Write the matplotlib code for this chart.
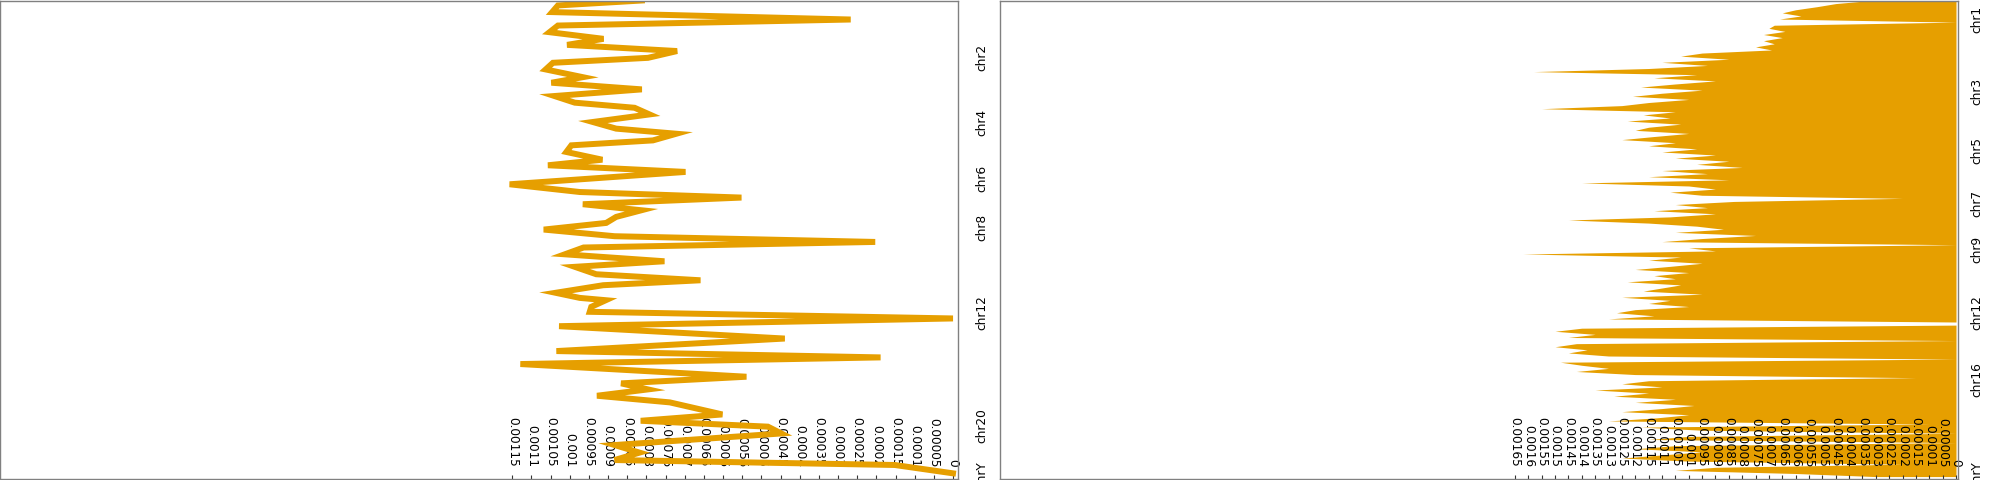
import numpy as np
import matplotlib
matplotlib.use("Agg")
import matplotlib.pyplot as plt

# chromosome sizes (Mb, hg19) - used for genome-wide coordinates
chrom_names = ["chr1", "chr2", "chr3", "chr4", "chr5", "chr6", "chr7", "chr8",
               "chr9", "chr10", "chr11", "chr12", "chr13", "chr14", "chr15", "chr16",
               "chr17", "chr18", "chr19", "chr20", "chr21", "chr22", "chrX", "chrY"]
chrom_len = [249.25, 243.20, 198.02, 191.15, 180.92, 171.12, 159.14, 146.36,
             141.21, 135.53, 135.01, 133.85, 115.17, 107.35, 102.53, 90.35,
             81.20, 78.08, 59.13, 63.03, 48.13, 51.30, 155.27, 59.37]

# which chromosome names are shown on each panel
left_labels = ["chr2", "chr4", "chr6", "chr8", "chr12", "chr20", "chrY"]
right_labels = ["chr1", "chr3", "chr5", "chr7", "chr9", "chr12", "chr16", "chrY"]

# left panel: coarse line (genome position in Mb, value x1e-4)
left_pos = [0, 32, 75, 123, 162, 205, 248, 287, 327, 371,
            403, 446, 496, 532, 575, 618, 661, 694, 737, 786,
            829, 862, 905, 937, 980, 1030, 1066, 1109, 1189, 1239,
            1275, 1318, 1357, 1400, 1439, 1482, 1525, 1562, 1598, 1642,
            1687, 1723, 1771, 1810, 1842, 1891, 1924, 1939, 1982, 2014,
            2057, 2107, 2187, 2268, 2309, 2352, 2434, 2477, 2516, 2557,
            2600, 2678, 2719, 2757, 2801, 2876, 2925, 2973, 3005, 3059]
left_val = [8.12, 10.31, 10.46, 2.67, 10.31, 10.53, 9.12, 10.07, 7.20, 7.96,
            10.44, 10.63, 9.66, 10.48, 8.12, 10.40, 9.87, 8.31, 7.92, 9.40,
            8.79, 7.22, 7.83, 9.96, 10.09, 9.15, 10.57, 6.98, 11.57, 9.74,
            5.52, 9.66, 8.13, 8.79, 9.05, 10.68, 8.83, 2.03, 9.64, 10.13,
            7.53, 9.87, 9.31, 6.59, 9.13, 10.37, 9.74, 9.06, 9.44, 9.48,
            0.0, 10.28, 4.39, 10.35, 1.89, 11.29, 5.39, 8.66, 7.96, 9.29,
            7.39, 6.02, 8.15, 4.83, 4.48, 8.83, 8.18, 8.83, 1.52, 0.0]

# right panel: 20 Mb bins along the genome, values x1e-4
bin_mb = 20
right_val = [3.2, 4.5, 5.2, 6.0, 6.5, 5.8, 6.6, 0, 6.8, 7.0,
             6.4, 7.2, 6.5, 7.2, 6.8, 7.5, 6.9, 9.5, 10.3, 8.5,
             11.0, 9.3, 11.5, 15.8, 9.7, 11.3, 9.0, 10.5, 11.8, 9.5,
             11.0, 12.1, 10.0, 11.5, 12.5, 15.5, 10.5, 11.7, 10.7, 12.3,
             10.3, 11.5, 12.0, 10.0, 11.3, 12.5, 10.5, 11.5, 9.7, 11.0,
             9.0, 10.5, 8.5, 9.7, 8.0, 11.0, 9.3, 11.5, 8.5, 14.0,
             10.0, 9.0, 10.7, 9.5, 2.0, 8.3, 10.5, 9.3, 11.3, 9.0,
             10.7, 14.5, 11.5, 9.7, 8.7, 10.5, 7.5, 9.5, 11.0, 0,
             10.0, 9.0, 16.2, 10.3, 11.5, 9.5, 10.7, 12.0, 10.0, 11.3,
             10.5, 12.3, 10.3, 11.0, 11.7, 9.5, 12.5, 10.7, 11.5, 10.0,
             12.0, 12.7, 11.3, 13.0, 0, 0, 14.0, 15.0, 13.5, 14.5,
             0, 14.2, 15.0, 13.8, 14.5, 13.0, 0, 14.8, 14.0, 13.0,
             14.2, 12.0, 1.5, 11.5, 12.5, 11.0, 13.5, 11.5, 12.8, 10.5,
             12.0, 9.8, 11.0, 12.5, 10.0, 11.2, 13.0, 1.0, 11.8, 9.5,
             0, 10.0, 11.5, 0, 10.5, 12.0, 9.5, 11.0, 12.5, 10.0,
             2.0, 9.0, 10.5, 6.0, 3.0]

left_ticks = [i * 0.00005 for i in range(24)]   # 0 .. 0.00115
right_ticks = [i * 0.00005 for i in range(34)]  # 0 .. 0.00165

orange = "#E69F00"
spine_col = "#808080"
fs = 8.7

starts = np.concatenate([[0], np.cumsum(chrom_len)[:-1]])
mids = starts + np.array(chrom_len) / 2
total = sum(chrom_len)
mid_of = dict(zip(chrom_names, mids))


def fmt(v):
    if v == 0:
        return "0"
    return f"{v:.5f}".rstrip("0")


fig = plt.figure(figsize=(19.9, 4.8), dpi=100)
ax1 = fig.add_axes([0.0, 1 / 480, 958 / 1990, 478.5 / 480])
ax2 = fig.add_axes([1000 / 1990, 1 / 480, 958 / 1990, 478.5 / 480])

ax1.plot(np.array(left_val) * 1e-4, left_pos, color=orange, lw=4.3,
         solid_joinstyle="miter")

rpos = np.arange(len(right_val)) * bin_mb
ax2.fill_betweenx(rpos, 0, np.array(right_val) * 1e-4, color=orange, lw=0)

ax1.set_xlim(953 / 383200, -5 / 383200)
ax2.set_xlim(956 / 267300, -2 / 267300)

for ax, ticks, labels, rpad in [(ax1, left_ticks, left_labels, 12.2),
                                (ax2, right_ticks, right_labels, 8.6)]:
    ax.set_ylim(total, 0)
    ax.set_xticks(ticks, [fmt(t) for t in ticks], rotation=-90, va="bottom",
                  fontsize=fs)
    ax.tick_params(axis="x", direction="in", length=3.1, width=0.8,
                   pad=-8.6, color="#333333")
    ax.yaxis.tick_right()
    ax.set_yticks([mid_of[c] for c in labels], labels, rotation=90,
                  fontsize=fs, va="center")
    ax.tick_params(axis="y", length=0, pad=rpad)
    for s in ax.spines.values():
        s.set_color(spine_col)
        s.set_linewidth(1.0)

# line goes over the value labels on the left panel
ax1.set_axisbelow(True)

fig.savefig("out.png", dpi=100)
